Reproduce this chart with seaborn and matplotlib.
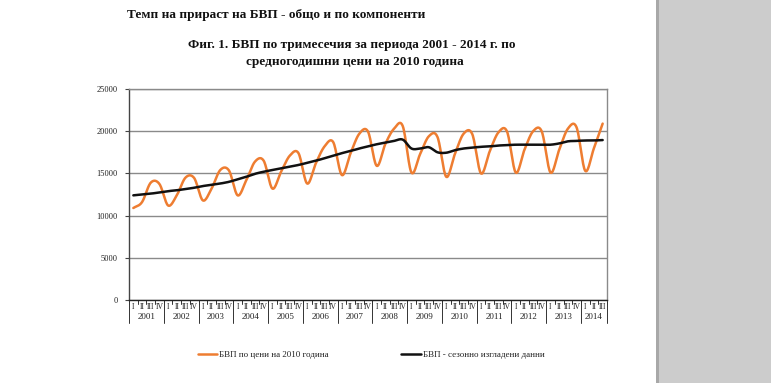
import numpy as np
import pandas as pd
import matplotlib
matplotlib.use("Agg")
import matplotlib.pyplot as plt
import matplotlib.transforms as mtransforms
from matplotlib.patches import Rectangle
import seaborn as sns

sns.set_style("white")
plt.rcParams['font.family'] = ['Liberation Serif', 'DejaVu Serif']

# данни по тримесечия, 2001 Q1 - 2014 Q3
years = [str(y) for y in range(2001, 2015)]
quarters = ["I", "II", "III", "IV"]
q_labels = [q for y in years for q in (quarters if y != "2014" else quarters[:3])]

gdp = [10900, 11600, 13900, 13750,
       11200, 12400, 14500, 14450,
       11800, 13200, 15400, 15350,
       12400, 14200, 16400, 16500,
       13200, 15200, 17100, 17400,
       13800, 16200, 18200, 18700,
       14800, 17400, 19700, 19950,
       15900, 18500, 20300, 20600,
       15100, 17300, 19400, 19300,
       14600, 17300, 19700, 19650,
       15000, 17600, 19850, 19950,
       15100, 17800, 20000, 19950,
       15100, 17800, 20300, 20450,
       15300, 18000, 20900]
gdp_sa = [12400, 12500, 12600, 12750,
          12900, 13000, 13150, 13300,
          13500, 13650, 13800, 14000,
          14300, 14600, 14950, 15200,
          15400, 15600, 15800, 16000,
          16250, 16500, 16800, 17100,
          17400, 17650, 17950, 18200,
          18450, 18650, 18850, 19000,
          17950, 17950, 18100, 17500,
          17450, 17750, 17950, 18050,
          18150, 18200, 18300, 18350,
          18400, 18400, 18400, 18400,
          18400, 18550, 18800, 18850,
          18900, 18900, 18950]
series_names = ["БВП по цени на 2010 година", "БВП - сезонно изгладени данни"]
colors = ["#ee7d31", "#111111"]


def smooth(vals, n=16):
    # Catmull-Rom, като "изгладена линия" в Excel
    p = np.asarray(vals, float)
    pp = np.r_[2 * p[0] - p[1], p, 2 * p[-1] - p[-2]]
    t = np.linspace(0, 1, n, endpoint=False)
    xs, ys = [], []
    for i in range(len(p) - 1):
        p0, p1, p2, p3 = pp[i:i + 4]
        ys.append(0.5 * (2 * p1 + (-p0 + p2) * t + (2 * p0 - 5 * p1 + 4 * p2 - p3) * t ** 2
                         + (-p0 + 3 * p1 - 3 * p2 + p3) * t ** 3))
        xs.append(i + t)
    xs.append([len(p) - 1]); ys.append([p[-1]])
    return np.concatenate(xs), np.concatenate(ys)


frames = []
for name, vals in zip(series_names, [gdp, gdp_sa]):
    x, y = smooth(vals)
    frames.append(pd.DataFrame({"x": x, "value": y, "series": name}))
df = pd.concat(frames, ignore_index=True)

fig = plt.figure(figsize=(7.71, 3.83), dpi=100)
ax = fig.add_axes([129 / 771, 1 - 300 / 383, 478 / 771, 211 / 383])

sns.lineplot(data=df, x="x", y="value", hue="series", palette=colors,
             hue_order=series_names, legend=False, ax=ax, sort=False,
             linewidth=1.8, estimator=None)

ax.set_ylim(0, 25000)
ax.set_xlim(-0.5, len(q_labels) - 0.5)
ax.set_yticks(range(0, 25001, 5000))
ax.yaxis.grid(True, color="#8a8a8a", linewidth=1.0)
ax.set_axisbelow(True)
ax.tick_params(axis="y", labelsize=6, length=3, width=0.8, pad=5, color="#444444",
               labelcolor="#222222", left=True)
ax.set_xticks([])
ax.set_xlabel("")
ax.set_ylabel("")
for s in ["top", "right"]:
    ax.spines[s].set_color("#8a8a8a")
    ax.spines[s].set_linewidth(1.0)
ax.spines["left"].set_color("#444444")
ax.spines["bottom"].set_color("#222222")
ax.spines["left"].set_linewidth(1.0)
ax.spines["bottom"].set_linewidth(1.0)

# категорийна ос на две нива
trans = mtransforms.blended_transform_factory(ax.transData, ax.transAxes)
px = 1 / 211
for k in range(len(q_labels) + 1):
    ax.plot([k - 0.5, k - 0.5], [0, -4 * px], transform=trans, color="#333333",
            lw=0.7, clip_on=False)
for i, lab in enumerate(q_labels):
    ax.text(i, -7 * px, lab, transform=trans, ha="center", va="center",
            fontsize=5.5, color="#222222")
start = 0
for y in years:
    nq = 3 if y == "2014" else 4
    ax.plot([start - 0.5, start - 0.5], [0, -23 * px], transform=trans,
            color="#333333", lw=0.7, clip_on=False)
    ax.text(start - 0.5 + nq / 2, -17 * px, y, transform=trans, ha="center",
            va="center", fontsize=6.5, color="#222222")
    start += nq
ax.plot([start - 0.5, start - 0.5], [0, -23 * px], transform=trans,
        color="#333333", lw=0.7, clip_on=False)

# легенда
handles = ax.get_lines()[:2]
leg = fig.legend(handles, series_names, loc="center", bbox_to_anchor=(371 / 771, 1 - 355 / 383),
                 ncol=2, frameon=False, fontsize=6.5, handlelength=2.2, handletextpad=0.2,
                 columnspacing=8)
for t in leg.get_texts():
    t.set_color("#222222")

# заглавия
fig.text(127 / 771, 1 - 15 / 383, "Темп на прираст на БВП - общо и по компоненти",
         fontsize=9.5, fontweight="bold", ha="left", va="center", color="#111111")
fig.text(352 / 771, 1 - 45 / 383, "Фиг. 1. БВП по тримесечия за периода 2001 - 2014 г. по",
         fontsize=9.5, fontweight="bold", ha="center", va="center", color="#111111")
fig.text(355 / 771, 1 - 62 / 383, "средногодишни цени на 2010 година",
         fontsize=9.5, fontweight="bold", ha="center", va="center", color="#111111")

# сив панел вдясно
fig.patches.append(Rectangle((657 / 771, 0), 114 / 771, 1, transform=fig.transFigure,
                             facecolor="#cccccc", edgecolor="none", zorder=0))
fig.patches.append(Rectangle((656 / 771, 0), 3 / 771, 1, transform=fig.transFigure,
                             facecolor="#a8a8a8", edgecolor="none", zorder=0))

fig.savefig("out.png", dpi=100)
